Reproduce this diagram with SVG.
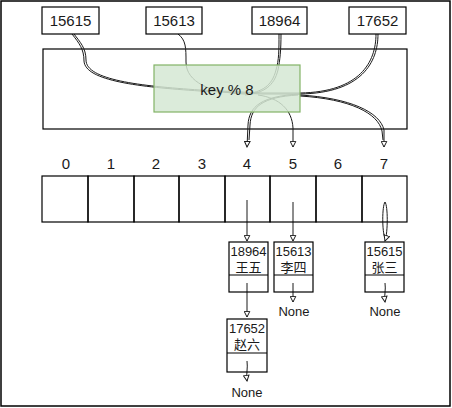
<svg xmlns="http://www.w3.org/2000/svg" width="452" height="408" viewBox="0 0 452 408">
<defs>
<style>
.box{fill:#fff;stroke:#000;stroke-width:1.2}
.cell{fill:none;stroke:#000;stroke-width:1.2}
.t{font-family:"Liberation Sans",Arial,sans-serif;font-size:15px;fill:#1a1a1a;text-anchor:middle;dominant-baseline:central}
.s{font-family:"Liberation Sans","Noto Sans CJK SC",sans-serif;font-size:13px;fill:#1a1a1a;text-anchor:middle;dominant-baseline:central}
.e{fill:none;stroke:#1a1a1a;stroke-width:1}
.ea{fill:none;stroke:#1a1a1a;stroke-width:1;marker-end:url(#arr)}
</style>
<marker id="arr" viewBox="0 0 10 10" refX="9" refY="5" markerWidth="7" markerHeight="7" orient="auto" markerUnits="userSpaceOnUse">
<path d="M1,1 L9,5 L1,9 Z" fill="#fff" stroke="#1a1a1a" stroke-width="1.4"/>
</marker>
</defs>
<rect x="0" y="0" width="452" height="408" fill="#fff"/>
<rect x="1" y="1" width="449" height="405" fill="none" stroke="#000" stroke-width="1.5"/>

<g id="hash-area">
<rect x="43" y="49" width="364" height="80" class="box"/>
</g>

<g id="connectors">
<path class="e" d="M74 34 C80 42 86 48 86 60 C86 80 140 86 200 90 L262 93"/>
<path class="e" d="M72 34 C79 43 84 49 84 61 C85 81 140 87 200 91 L262 94"/>
<path class="e" d="M178 34 C186 40 186 48 186 62 C186 82 210 93 245 94"/>
<path class="e" d="M279 34 C279 50 279 60 276 70 C272 86 262 92 245 94"/>
<path class="e" d="M281 34 C281 50 280 60 278 70 C274 86 264 93 245 95"/>
<path class="e" d="M378 34 C378 62 362 93 300 94 L262 94"/>
<path class="e" d="M376 34 C376 62 360 92 300 93 L262 93"/>
<path class="ea" d="M300 94 C262 96 249 106 248 125 L247 147"/>
<path class="e" d="M298 95 C262 97 251 107 250 125 L249 140"/>
<path class="ea" d="M258 95 C280 98 292 110 293 128 L293 147"/>
<path class="ea" d="M300 95 C350 98 380 112 384 130 L384 147"/>
<path class="e" d="M300 96 C350 99 378 113 382 131 L383 140"/>
<path class="ea" d="M247 200 L247 241"/>
<path class="ea" d="M293 202 L293 241"/>
<path class="e" d="M385 202 C382 206 382 232 385 238"/>
<path class="ea" d="M385 202 C388 206 388 232 385 241"/>
<path class="ea" d="M247 283 L247 317"/>
<path class="ea" d="M293 283 L293 302"/>
<path class="ea" d="M385 283 C386 290 384 295 385 302"/>
<path class="ea" d="M247 361 C248 368 246 374 247 381"/>
</g>

<g id="hash-func">
<rect x="154" y="65" width="146" height="47" fill="#d5e8d4" fill-opacity="0.85" stroke="#82b366" stroke-width="1.2"/>
<text class="t" x="227" y="89">key % 8</text>
</g>

<g id="key-15615"><rect x="42" y="7" width="57" height="27" class="box"/><text class="t" x="70.5" y="20.5">15615</text></g>
<g id="key-15613"><rect x="146" y="7" width="56" height="27" class="box"/><text class="t" x="174" y="20.5">15613</text></g>
<g id="key-18964"><rect x="252" y="7" width="55" height="27" class="box"/><text class="t" x="279.5" y="20.5">18964</text></g>
<g id="key-17652"><rect x="349" y="7" width="57" height="27" class="box"/><text class="t" x="377.5" y="20.5">17652</text></g>

<g id="indices">
<text class="t" x="66" y="163">0</text>
<text class="t" x="111" y="163">1</text>
<text class="t" x="156" y="163">2</text>
<text class="t" x="202" y="163">3</text>
<text class="t" x="247" y="163">4</text>
<text class="t" x="293" y="163">5</text>
<text class="t" x="338" y="163">6</text>
<text class="t" x="384" y="163">7</text>
</g>

<g id="array">
<rect x="42" y="176" width="46" height="46" class="cell"/>
<rect x="88" y="176" width="46" height="46" class="cell"/>
<rect x="134" y="176" width="45" height="46" class="cell"/>
<rect x="179" y="176" width="46" height="46" class="cell"/>
<rect x="225" y="176" width="45" height="46" class="cell"/>
<rect x="270" y="176" width="46" height="46" class="cell"/>
<rect x="316" y="176" width="46" height="46" class="cell"/>
<rect x="362" y="176" width="45" height="46" class="cell"/>
</g>

<g id="node-18964">
<rect x="229" y="242" width="39" height="50" class="cell"/>
<line x1="229" y1="275" x2="268" y2="275" stroke="#000" stroke-width="1.2"/>
<text class="s" x="248.5" y="251">18964</text>
<text class="s" x="248.5" y="267">王五</text>
</g>
<g id="node-15613">
<rect x="274" y="242" width="39" height="50" class="cell"/>
<line x1="274" y1="275" x2="313" y2="275" stroke="#000" stroke-width="1.2"/>
<text class="s" x="293.5" y="251">15613</text>
<text class="s" x="293.5" y="267">李四</text>
</g>
<g id="node-15615">
<rect x="365" y="242" width="39" height="50" class="cell"/>
<line x1="365" y1="275" x2="404" y2="275" stroke="#000" stroke-width="1.2"/>
<text class="s" x="384.5" y="251">15615</text>
<text class="s" x="384.5" y="267">张三</text>
</g>
<g id="node-17652">
<rect x="227" y="319" width="40" height="53" class="cell"/>
<line x1="227" y1="353" x2="267" y2="353" stroke="#000" stroke-width="1.2"/>
<text class="s" x="247" y="328">17652</text>
<text class="s" x="247" y="344">赵六</text>
</g>

<g id="none-1"><text class="s" x="294" y="311">None</text></g>
<g id="none-2"><text class="s" x="385" y="311">None</text></g>
<g id="none-3"><text class="s" x="247" y="392">None</text></g>
</svg>
